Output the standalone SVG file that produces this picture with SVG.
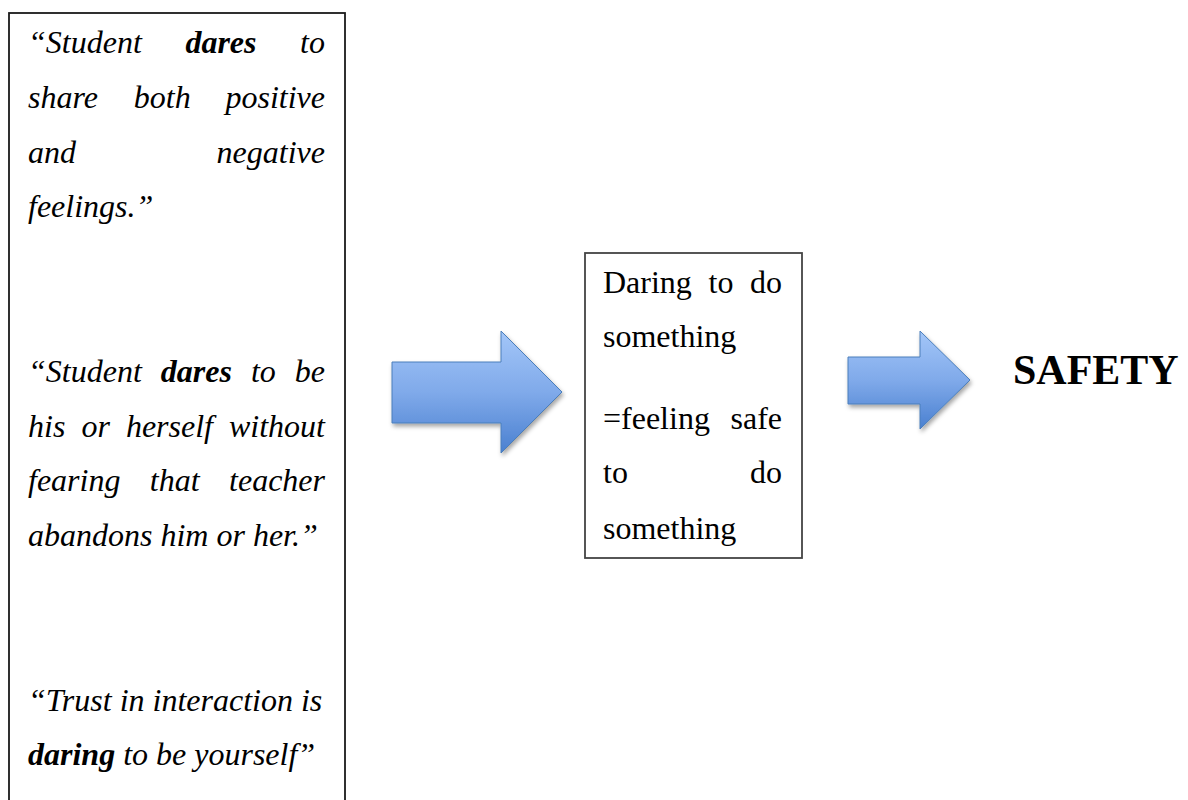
<svg xmlns="http://www.w3.org/2000/svg" width="1188" height="800" viewBox="0 0 1188 800">
<style>
.t{font-family:"Liberation Serif","Times New Roman",serif;font-size:32px;fill:#000}
.i{font-style:italic}
.b{font-weight:bold}
.e{text-anchor:end}
.box{fill:#fff;stroke-width:1.8}
.arrow{fill:url(#blueGrad);stroke:#4a7ebb;stroke-width:1;filter:url(#shadow)}
</style>
<defs>
<linearGradient id="blueGrad" x1="0" y1="0" x2="0" y2="1">
<stop offset="0" stop-color="#a3c6f8"/>
<stop offset="0.5" stop-color="#80aaea"/>
<stop offset="1" stop-color="#4a80d0"/>
</linearGradient>
<filter id="shadow" x="-20%" y="-20%" width="140%" height="150%">
<feDropShadow dx="1.5" dy="3" stdDeviation="2" flood-color="#000" flood-opacity="0.35"/>
</filter>
</defs>
<rect width="1188" height="800" fill="#fff"/>

<g id="quotes">
<rect class="box" x="9" y="13" width="336" height="820" stroke="#1a1a1a"/>
<text class="t i" x="28" y="53">“Student</text>
<text class="t i b" x="185.4" y="53">dares</text>
<text class="t i e" x="325" y="53">to</text>
<text class="t i" x="28" y="107.8">share</text>
<text class="t i" x="133.8" y="107.8">both</text>
<text class="t i e" x="325" y="107.8">positive</text>
<text class="t i" x="28" y="162.6">and</text>
<text class="t i e" x="325" y="162.6">negative</text>
<text class="t i" x="28" y="217.4">feelings.”</text>

<text class="t i" x="28" y="381.8">“Student</text>
<text class="t i b" x="160.8" y="381.8">dares</text>
<text class="t i" x="250.9" y="381.8">to</text>
<text class="t i e" x="325" y="381.8">be</text>
<text class="t i" x="28" y="436.6">his</text>
<text class="t i" x="81.4" y="436.6">or</text>
<text class="t i" x="125.9" y="436.6">herself</text>
<text class="t i e" x="325" y="436.6">without</text>
<text class="t i" x="28" y="491.4">fearing</text>
<text class="t i" x="149.8" y="491.4">that</text>
<text class="t i e" x="325" y="491.4">teacher</text>
<text class="t i" x="28" y="546.2">abandons him or her.”</text>

<text class="t i" x="28" y="710.6">“Trust in interaction is</text>
<text class="t i" x="28" y="765.4"><tspan class="b">daring</tspan> to be yourself”</text>
</g>

<g id="daring">
<rect class="box" x="585" y="253" width="217" height="305" stroke="#444"/>
<text class="t" x="603" y="293">Daring</text>
<text class="t" x="708.5" y="293">to</text>
<text class="t e" x="782" y="293">do</text>
<text class="t" x="603" y="347">something</text>
<text class="t" x="603" y="429">=feeling</text>
<text class="t e" x="782" y="429">safe</text>
<text class="t" x="603" y="483">to</text>
<text class="t e" x="782" y="483">do</text>
<text class="t" x="603" y="539">something</text>
</g>

<g id="safety">
<text class="t b" x="1013" y="384" style="font-size:42px">SAFETY</text>
</g>

<g id="connectors">
<polygon class="arrow" points="392,362 501,362 501,331 562,392 501,453 501,423 392,423"/>
<polygon class="arrow" points="848,357 920,357 920,331 970,380 920,429 920,404 848,404"/>
</g>
</svg>
